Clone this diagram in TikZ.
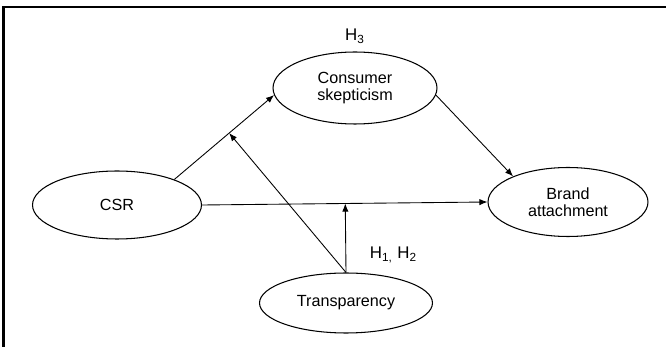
\documentclass[tikz,border=0pt]{standalone}
\usepackage{fontspec}
\setmainfont{Liberation Sans}
\usepackage{tikz}
\usetikzlibrary{shapes.geometric, positioning, calc, arrows.meta}

\tikzset{
    construct/.style={draw, ellipse, line width=0.6pt, inner sep=0pt, align=center,
        font=\fontsize{9.2}{9.7}\selectfont},
    link/.style={-{Latex[length=4.6pt,width=3.6pt]}, line width=0.5pt},
    hyp/.style={font=\fontsize{9.6}{10}\selectfont}
}

\begin{document}
\begin{tikzpicture}[x=0.02cm, y=-0.02cm]
    \useasboundingbox (0,0) rectangle (666,347);
    \draw[line width=1.2pt] (3.5,347) -- (3.5,6.7) -- (666,6.7);

    \node[construct, minimum width=3.38cm, minimum height=1.36cm] (csr) at (117,205) {CSR};
    \node[construct, minimum width=3.28cm, minimum height=1.44cm] (skep) at (355,88) {Consumer\\skepticism};
    \node[construct, minimum width=3.2cm, minimum height=1.38cm] (brand) at (568,202) {Brand\\attachment};
    \node[construct, minimum width=3.46cm, minimum height=1.2cm] (transp) at (346,303) {Transparency};

    \node[hyp] (h3) at (355,36.5) {H\textsubscript{3}};
    \node[hyp] (h12) at (393.5,255) {H\textsubscript{1,} H\textsubscript{2}};

    \draw[link] (csr.24) -- (skep.185) coordinate[pos=0.55] (mod);
    \draw[link] (skep.355) -- (brand.155);
    \draw[link] (csr.east) -- (brand.west);
    \draw[link] (transp.north) -- (mod);
    \draw[link] (transp.north) -- ($(csr.east)!(transp.north)!(brand.west)$);
\end{tikzpicture}
\end{document}
